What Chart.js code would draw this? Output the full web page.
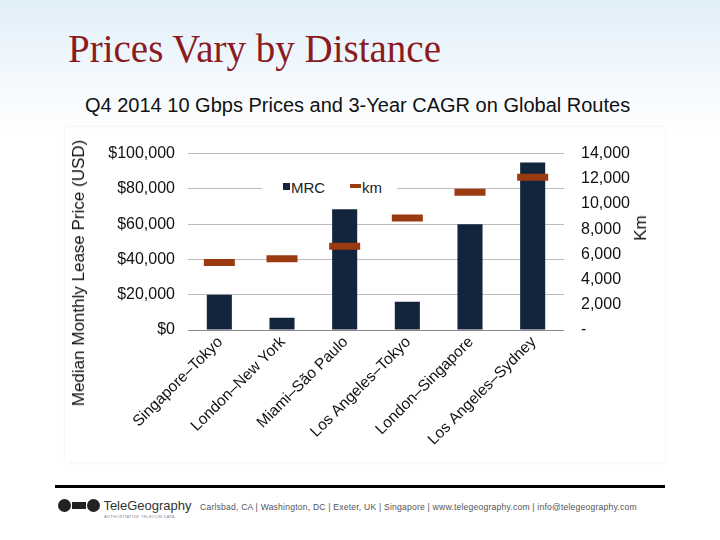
<!DOCTYPE html>
<html>
<head>
<meta charset="utf-8">
<script src="https://cdn.jsdelivr.net/npm/chart.js@4.4.1/dist/chart.umd.min.js"></script>
<style>
  html, body { margin: 0; padding: 0; }
  body {
    width: 720px; height: 540px; position: relative; overflow: hidden;
    background: linear-gradient(to bottom, #e1eff9 0px, #f4f9fd 80px, #ffffff 135px);
    font-family: "Liberation Sans", Arial, sans-serif;
  }
  #title {
    position: absolute; left: 68px; top: 26px;
    font-family: "Liberation Serif", "Times New Roman", serif;
    font-size: 39px; color: #8a1b1f; white-space: nowrap;
  }
  #subtitle {
    position: absolute; left: 85px; top: 94px;
    font-size: 20px; color: #111; white-space: nowrap;
  }
  #chartBox {
    position: absolute; left: 65px; top: 127px; width: 600px; height: 335px;
    box-shadow: 0 0 3px rgba(0,0,0,0.08);
  }
  .axisTitle {
    position: absolute; font-size: 17px; color: #111; white-space: nowrap;
    transform: translate(-50%, -50%) rotate(-90deg);
  }
  #legend {
    position: absolute; left: 262px; top: 178px; width: 135px; height: 20px;
    background: #fff; font-size: 15px; color: #222;
  }
  #legend .sq { position: absolute; left: 21px; top: 5px; width: 7px; height: 7px; background: #13253d; }
  #legend .t1 { position: absolute; left: 29px; top: 1px; }
  #legend .dash { position: absolute; left: 88px; top: 6px; width: 11px; height: 4px; background: #993a10; }
  #legend .t2 { position: absolute; left: 100px; top: 1px; }
  #rule { position: absolute; left: 55px; top: 485px; width: 610px; height: 3px; background: #000; }
  #logo { position: absolute; left: 58px; top: 498px; font-size: 13px; color: #333; white-space: nowrap; }
  #logo .ic { display: inline-block; width: 13px; height: 13px; border-radius: 50%; background: #222; vertical-align: -2px; }
  #logo .bar { display: inline-block; width: 14px; height: 7px; background: #222; vertical-align: 1px; margin: 0 1px; }
  #logo .sub { position: absolute; left: 46px; top: 16px; font-size: 4px; color: #888; letter-spacing: 0.3px; }
  #footer { position: absolute; left: 200px; top: 502px; font-size: 8.6px; color: #555; white-space: nowrap; letter-spacing: 0.2px; }
</style>
</head>
<body>
<div id="title">Prices Vary by Distance</div>
<div id="subtitle">Q4 2014 10 Gbps Prices and 3-Year CAGR on Global Routes</div>
<div id="chartBox"><canvas id="chart" width="600" height="335"></canvas></div>
<div class="axisTitle" style="left:79px; top:273px;">Median Monthly Lease Price (USD)</div>
<div class="axisTitle" style="left:641px; top:228px;">Km</div>
<div id="legend"><span class="sq"></span><span class="t1">MRC</span><span class="dash"></span><span class="t2">km</span></div>
<div id="rule"></div>
<div id="logo"><span class="ic"></span><span class="bar"></span><span class="ic"></span> TeleGeography<span class="sub">AUTHORITATIVE TELECOM DATA</span></div>
<div id="footer">Carlsbad, CA | Washington, DC | Exeter, UK | Singapore | www.telegeography.com | info@telegeography.com</div>
<script>
const routes = ["Singapore–Tokyo", "London–New York", "Miami–São Paulo", "Los Angeles–Tokyo", "London–Singapore", "Los Angeles–Sydney"];
const mrc = [20000, 7000, 68500, 16000, 60000, 95000];
const km = [5350, 5650, 6650, 8880, 10940, 12120];
const priceTicks = [0, 20000, 40000, 60000, 80000, 100000];
const kmTicks = [0, 2000, 4000, 6000, 8000, 10000, 12000, 14000];

const font = { family: "'Liberation Sans', Arial, sans-serif", size: 16 };

new Chart(document.getElementById("chart"), {
  type: "bar",
  data: {
    labels: routes,
    datasets: [
      {
        type: "line",
        label: "km",
        data: km,
        yAxisID: "y1",
        showLine: false,
        pointStyle: "line",
        pointRadius: 15.5,
        pointHoverRadius: 15.5,
        pointBorderWidth: 7,
        pointHoverBorderWidth: 7,
        borderColor: "#993a10",
        backgroundColor: "#993a10",
        order: 0
      },
      {
        label: "MRC",
        data: mrc,
        yAxisID: "y",
        backgroundColor: "#13253d",
        barPercentage: 0.4,
        categoryPercentage: 1,
        order: 1
      }
    ]
  },
  options: {
    responsive: false,
    animation: false,
    layout: { padding: { top: 15, left: 0, right: 0, bottom: 0 } },
    plugins: { legend: { display: false }, tooltip: { enabled: false } },
    scales: {
      x: {
        grid: { display: false },
        border: { display: false },
        ticks: { color: "#111", font: { ...font, size: 15.5 }, maxRotation: 45, minRotation: 45, padding: -5, labelOffset: 1 },
        afterFit: (s) => { s.height = 132; }
      },
      y: {
        position: "left",
        min: 0, max: 100000,
        afterBuildTicks: (s) => { s.ticks = priceTicks.map((v) => ({ value: v })); },
        grid: { color: (c) => (c.tick && c.tick.value === 0 ? "#8a8a8a" : "#bdbdbd"), lineWidth: 1, drawTicks: false },
        border: { display: false },
        ticks: {
          color: "#111", font, padding: 13,
          callback: (v) => "$" + Number(v).toLocaleString("en-US")
        },
        afterFit: (s) => { s.width = 123; }
      },
      y1: {
        position: "right",
        min: 0, max: 14000,
        afterBuildTicks: (s) => { s.ticks = kmTicks.map((v) => ({ value: v })); },
        grid: { display: false, drawTicks: false },
        border: { display: false },
        ticks: {
          color: "#111", font, padding: 17,
          callback: (v) => (v === 0 ? "-" : Number(v).toLocaleString("en-US"))
        },
        afterFit: (s) => { s.width = 101; }
      }
    }
  }
});
</script>
</body>
</html>
